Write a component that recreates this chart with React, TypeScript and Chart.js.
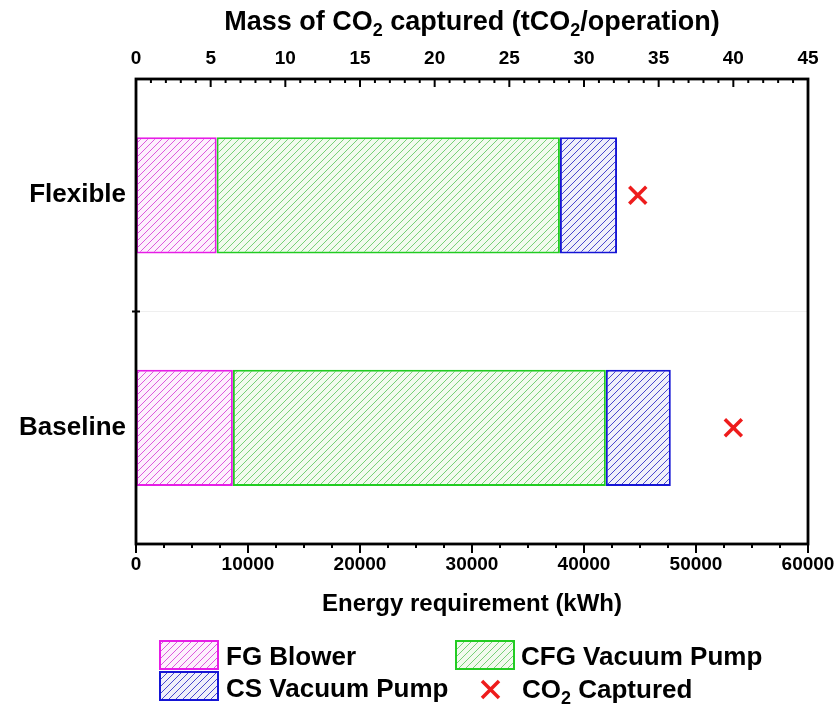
import React, { useEffect, useRef } from 'react';
import { Chart, registerables } from 'chart.js';

Chart.register(...registerables);

// Operating modes shown on the category axis
const categories = ['Flexible', 'Baseline'];

// Energy requirement per unit (kWh)
const fgBlower = [7200, 8650];
const cfgVacuumPump = [30650, 33300];
const csVacuumPump = [5100, 5800];

// Mass of CO2 captured (tCO2/operation)
const co2Captured = [33.6, 40.0];

// Axis ranges and tick steps
const energyMax = 60000;
const energyStep = 10000;
const energyMinorStep = 2500;
const massMax = 45;
const massStep = 5;
const massMinorStep = 1;

const FONT = '"Liberation Sans", Arial, sans-serif';

const COLORS = {
  fg: { line: '#e61ee6', hatch: '#dc5adc', fill: '#fdf0fd' },
  cfg: { line: '#22cc22', hatch: '#78d078', fill: '#f2faee' },
  cs: { line: '#1515d5', hatch: '#4848cc', fill: '#f0f0fa' },
  co2: '#ee1c1c',
};

function makeHatch(ctx: CanvasRenderingContext2D, fill: string, line: string) {
  const size = 7;
  const c = document.createElement('canvas');
  c.width = size;
  c.height = size;
  const g = c.getContext('2d')!;
  g.fillStyle = fill;
  g.fillRect(0, 0, size, size);
  g.strokeStyle = line;
  g.lineWidth = 1;
  g.beginPath();
  g.moveTo(-1, size + 1);
  g.lineTo(size + 1, -1);
  g.moveTo(-1, 1);
  g.lineTo(1, -1);
  g.moveTo(size - 1, size + 1);
  g.lineTo(size + 1, size - 1);
  g.stroke();
  return ctx.createPattern(c, 'repeat')!;
}

type Part = [string, boolean];

function drawRich(ctx: CanvasRenderingContext2D, parts: Part[], x: number, y: number, size: number, align: 'left' | 'center') {
  const subSize = Math.round(size * 0.68);
  const widths = parts.map(([t, sub]) => {
    ctx.font = `bold ${sub ? subSize : size}px ${FONT}`;
    return ctx.measureText(t).width;
  });
  const total = widths.reduce((a, b) => a + b, 0);
  let cx = align === 'center' ? x - total / 2 : x;
  ctx.textAlign = 'left';
  ctx.textBaseline = 'alphabetic';
  parts.forEach(([t, sub], i) => {
    ctx.font = `bold ${sub ? subSize : size}px ${FONT}`;
    ctx.fillText(t, cx, sub ? y + size * 0.22 : y);
    cx += widths[i];
  });
}

const frameAndLegend = {
  id: 'frameAndLegend',
  afterDraw(chart: any) {
    const ctx: CanvasRenderingContext2D = chart.ctx;
    const { left, right, top, bottom } = chart.chartArea;
    const sx = chart.scales.x;
    const sx2 = chart.scales.x2;
    ctx.save();
    ctx.strokeStyle = '#000';
    ctx.fillStyle = '#000';

    // tick marks: top ticks point inward, bottom ticks outward
    ctx.lineWidth = 2;
    ctx.beginPath();
    for (let v = 0; v <= massMax; v += massMinorStep) {
      const px = sx2.getPixelForValue(v);
      const len = v % massStep === 0 ? 8 : 4;
      ctx.moveTo(px, top);
      ctx.lineTo(px, top + len);
    }
    for (let v = 0; v <= energyMax; v += energyMinorStep) {
      const px = sx.getPixelForValue(v);
      const len = v % energyStep === 0 ? 9 : 4;
      ctx.moveTo(px, bottom);
      ctx.lineTo(px, bottom + len);
    }
    const midY = (top + bottom) / 2;
    ctx.moveTo(left - 4, midY);
    ctx.lineTo(left + 4, midY);
    ctx.stroke();

    // plot frame
    ctx.lineWidth = 2.8;
    ctx.strokeRect(left, top, right - left, bottom - top);

    // top axis title with subscripts
    drawRich(ctx, [['Mass of CO', false], ['2', true], [' captured (tCO', false], ['2', true], ['/operation)', false]], (left + right) / 2, 30, 27, 'center');

    // legend
    const ds = chart.data.datasets;
    const box = (x: number, y: number, d: any) => {
      ctx.fillStyle = d.backgroundColor;
      ctx.fillRect(x, y, 58, 28);
      ctx.strokeStyle = d.borderColor;
      ctx.lineWidth = 2;
      ctx.strokeRect(x, y, 58, 28);
    };
    box(160, 641, ds[0]);
    box(456, 641, ds[1]);
    box(160, 672, ds[2]);
    ctx.fillStyle = '#000';
    ctx.font = `bold 26px ${FONT}`;
    ctx.textAlign = 'left';
    ctx.textBaseline = 'alphabetic';
    ctx.fillText(ds[0].label, 226, 665);
    ctx.fillText(ds[1].label, 521, 665);
    ctx.fillText(ds[2].label, 226, 697);

    // CO2 marker legend entry
    ctx.strokeStyle = COLORS.co2;
    ctx.lineWidth = 3.5;
    ctx.beginPath();
    ctx.moveTo(482, 681);
    ctx.lineTo(499, 698);
    ctx.moveTo(499, 681);
    ctx.lineTo(482, 698);
    ctx.stroke();
    ctx.fillStyle = '#000';
    drawRich(ctx, [['CO', false], ['2', true], [' Captured', false]], 522, 698, 26, 'left');
    ctx.restore();
  },
};

export default function App() {
  const ref = useRef<HTMLCanvasElement>(null);

  useEffect(() => {
    const canvas = ref.current!;
    const ctx = canvas.getContext('2d')!;
    const tickFont = { family: FONT, size: 19, weight: 'bold' as const };

    const chart = new Chart(ctx, {
      type: 'bar',
      data: {
        labels: categories,
        datasets: [
          {
            label: 'FG Blower',
            data: fgBlower,
            xAxisID: 'x',
            backgroundColor: makeHatch(ctx, COLORS.fg.fill, COLORS.fg.hatch),
            borderColor: COLORS.fg.line,
            borderWidth: 2,
            borderSkipped: false,
          },
          {
            label: 'CFG Vacuum Pump',
            data: cfgVacuumPump,
            xAxisID: 'x',
            backgroundColor: makeHatch(ctx, COLORS.cfg.fill, COLORS.cfg.hatch),
            borderColor: COLORS.cfg.line,
            borderWidth: 2,
            borderSkipped: false,
          },
          {
            label: 'CS Vacuum Pump',
            data: csVacuumPump,
            xAxisID: 'x',
            backgroundColor: makeHatch(ctx, COLORS.cs.fill, COLORS.cs.hatch),
            borderColor: COLORS.cs.line,
            borderWidth: 2,
            borderSkipped: false,
          },
          {
            type: 'scatter',
            label: 'CO2 Captured',
            data: categories.map((c, i) => ({ x: co2Captured[i], y: c })),
            xAxisID: 'x2',
            yAxisID: 'y',
            stack: 'co2',
            pointStyle: 'crossRot',
            radius: 12,
            borderWidth: 3.5,
            borderColor: COLORS.co2,
            backgroundColor: COLORS.co2,
          } as any,
        ],
      },
      options: {
        indexAxis: 'y',
        responsive: false,
        animation: false,
        devicePixelRatio: 1,
        categoryPercentage: 1,
        barPercentage: 0.5,
        layout: { padding: { left: 0, right: 29, top: 0, bottom: 84 } },
        plugins: { legend: { display: false }, tooltip: { enabled: false } },
        scales: {
          x: {
            type: 'linear',
            position: 'bottom',
            stacked: true,
            min: 0,
            max: energyMax,
            ticks: {
              stepSize: energyStep,
              color: '#000',
              font: tickFont,
              padding: 1,
              maxRotation: 0,
              autoSkip: false,
              callback: (v: any) => String(v),
            },
            grid: { display: false },
            border: { display: false },
            title: {
              display: true,
              text: 'Energy requirement (kWh)',
              color: '#000',
              font: { family: FONT, size: 24, weight: 'bold' },
              padding: { top: 0, bottom: 5 },
            },
            afterFit: (s: any) => {
              s.height = 80;
              s.paddingLeft = 0;
              s.paddingRight = 0;
            },
          },
          x2: {
            type: 'linear',
            position: 'top',
            min: 0,
            max: massMax,
            ticks: {
              stepSize: massStep,
              color: '#000',
              font: tickFont,
              padding: 1,
              maxRotation: 0,
              autoSkip: false,
            },
            grid: { display: false },
            border: { display: false },
            afterFit: (s: any) => {
              s.height = 79;
              s.paddingLeft = 0;
              s.paddingRight = 0;
            },
          },
          y: {
            type: 'category',
            stacked: true,
            ticks: {
              color: '#000',
              font: { family: FONT, size: 26, weight: 'bold' },
              padding: 10,
            },
            grid: { offset: true, color: '#efefef', lineWidth: 1, drawTicks: false },
            border: { display: false },
            afterFit: (s: any) => {
              s.width = 136;
              s.paddingTop = 0;
              s.paddingBottom = 0;
            },
          },
        },
      } as any,
      plugins: [frameAndLegend],
    });

    return () => chart.destroy();
  }, []);

  return (
    <div style={{ position: 'absolute', left: 0, top: 0, width: 837, height: 708, background: '#fff' }}>
      <canvas ref={ref} width={837} height={708} style={{ display: 'block' }} />
    </div>
  );
}
